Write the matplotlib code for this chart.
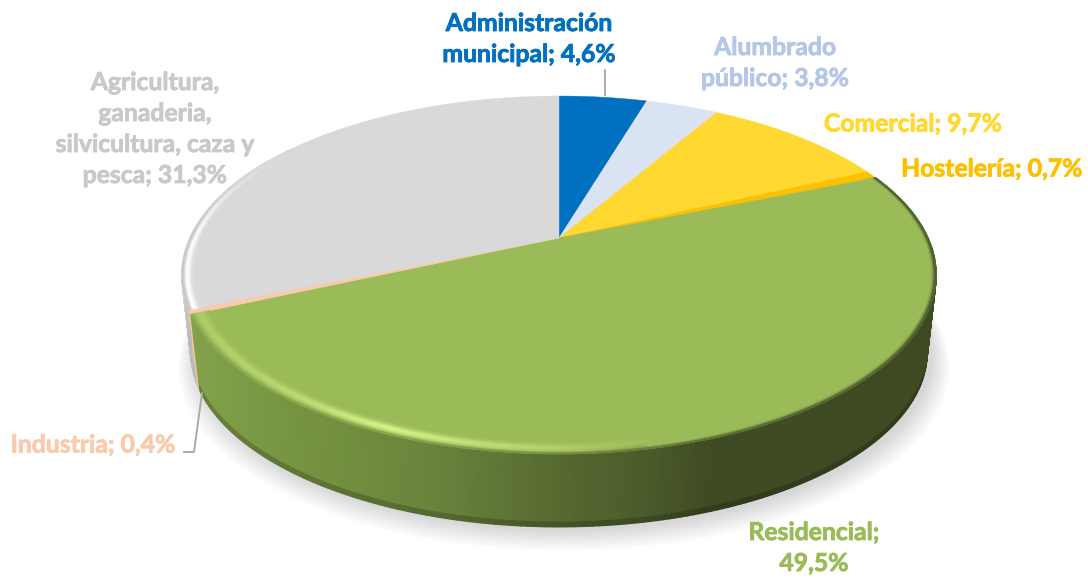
import numpy as np
import matplotlib
matplotlib.use("Agg")
import matplotlib.pyplot as plt
import matplotlib.patheffects as pe
from matplotlib.collections import PolyCollection
from matplotlib.colors import to_rgb

plt.rcParams["font.family"] = ["Lato", "DejaVu Sans"]

# data
names = ["Administración municipal", "Alumbrado público", "Comercial", "Hostelería",
         "Residencial", "Industria", "Agricultura, ganaderia, silvicultura, caza y pesca"]
values = [4.6, 3.8, 9.7, 0.7, 49.5, 0.4, 31.3]
face_colors = ["#0070C0", "#DAE3F3", "#FFD932", "#FFC000", "#9BBB59", "#F8CBAD", "#D9D9D9"]
label_colors = ["#0070C0", "#B4C7E7", "#FFD932", "#FFC000", "#9BBB59", "#F8CBAD", "#C9C9C9"]
label_breaks = [
    ["Administración", "municipal; {}"],
    ["Alumbrado", "público; {}"],
    ["Comercial; {}"],
    ["Hostelería; {}"],
    ["Residencial;", "{}"],
    ["Industria; {}"],
    ["Agricultura,", "ganaderia,", "silvicultura, caza y", "pesca; {}"],
]
label_xy = [(529, 39), (775, 63), (913, 124), (992, 169), (814, 548), (93, 445), (155, 129)]

# pie geometry in pixels
CX, CY = 559, 238
K = 0.2067
R, S = 369, 171.3
DEPTH_SCALE, DEPTH_SHIFT = 0.976, 78


def project(r, t, depth=0.0):
    u = r * np.sin(t)
    v = r * np.cos(t)
    w = 1 + K * v
    s = 1 - (1 - DEPTH_SCALE) * depth
    return CX + s * R * u / w, CY - s * S * v / w + DEPTH_SHIFT * depth


def mix(a, b, w):
    a = np.asarray(to_rgb(a))
    b = np.asarray(to_rgb(b))
    w = np.asarray(w)[..., None]
    return a * (1 - w) + b * w


def draw_wall(ax, t0, t1, color_fn):
    ts = np.linspace(t0, t1, max(int((t1 - t0) * 70), 3))
    depths = np.linspace(0, 1, 17)
    polys, colors = [], []
    for i in range(len(ts) - 1):
        for j in range(len(depths) - 1):
            x0, y0 = project(1, ts[i], depths[j])
            x1, y1 = project(1, ts[i + 1], depths[j])
            x2, y2 = project(1, ts[i + 1], depths[j + 1])
            x3, y3 = project(1, ts[i], depths[j + 1])
            polys.append([(x0, y0), (x1, y1), (x2, y2), (x3, y3)])
            colors.append(color_fn((x0 + x1) / 2, depths[j]))
    ax.add_collection(PolyCollection(polys, facecolors=colors, edgecolors=colors, linewidths=1.0, zorder=3))


def green_wall_color(x, d):
    stops = [190, 300, 430, 567, 650, 710, 940]
    reds = [0x82, 0x76, 0x6A, 0x55, 0x4A, 0x3F, 0x3E]
    greens = [0xA2, 0x93, 0x84, 0x68, 0x5A, 0x4B, 0x4A]
    blues = [0x4A, 0x41, 0x3C, 0x2F, 0x2A, 0x23, 0x22]
    c = np.array([np.interp(x, stops, reds), np.interp(x, stops, greens), np.interp(x, stops, blues)]) / 255
    if d > 0.88:
        c = c * (1 - 3.5 * (d - 0.88))
    return tuple(c)


def gray_wall_color(x, d):
    g = 0.72 + 0.12 * (1 - d)
    return (g, g, g)


def rim_band(ax, t0, t1, face, rim_fn, width=0.045):
    ts = np.linspace(t0, t1, max(int((t1 - t0) * 90), 3))
    radii = np.linspace(1 - width, 0.9995, 13)
    for a, b in zip(radii[:-1], radii[1:]):
        xa, ya = project(a, ts)
        xb, yb = project(b, ts)
        s = (1 - a) / width
        polys = [[(xa[i], ya[i]), (xa[i + 1], ya[i + 1]), (xb[i + 1], yb[i + 1]), (xb[i], yb[i])]
                 for i in range(len(ts) - 1)]
        colors = [rim_fn(xa[i], ts[i], s, face) for i in range(len(ts) - 1)]
        ax.add_collection(PolyCollection(polys, facecolors=colors, edgecolors=colors, linewidths=0.8, zorder=5))


def green_rim(x, t, s, face):
    h = np.interp(x, [190, 300, 390, 520, 640, 720, 940], [0.3, 0.55, 1.0, 0.5, 0.12, 0, 0])
    d = np.interp(x, [560, 700, 800, 940], [0.0, 0.4, 0.6, 0.9])
    band = s if x < 650 else s * 2.0
    hw = h * np.exp(-((band - 0.5) / 0.3) ** 2)
    c = mix(face, "#D8F48A", min(hw, 1))
    dw = d * max(1 - band * 1.6, 0) ** 1.3
    c = mix(tuple(c), "#3E4A22", dw)
    wall = green_wall_color(x, 0)
    return tuple(mix(tuple(c), wall, max(1 - s * 5, 0)))


def gray_rim(x, t, s, face):
    h = np.interp(np.degrees(t), [247, 272, 300], [1.0, 0.9, 0.0])
    w = h * np.exp(-((s - 0.45) / 0.3) ** 2)
    c = mix(face, "#FFFFFF", w)
    return tuple(mix(tuple(c), "#BDBDBD", h * max(1 - s * 3, 0)))


fig = plt.figure(figsize=(10.88, 5.79), dpi=100)
ax = fig.add_axes([0, 0, 1, 1])
ax.set_xlim(0, 1088)
ax.set_ylim(579, 0)
ax.axis("off")

edges = np.radians(np.cumsum([0] + values) / sum(values) * 360)

# soft shadow under the pie
circle = np.linspace(0, 2 * np.pi, 300)
for grow in np.linspace(1.0, 0, 10):
    sx, sy = project(1 + 0.045 * grow, circle, 1)
    ax.fill(sx + 5, sy + 4 + 8 * grow, color="#000000", alpha=0.016, lw=0, zorder=1)

# side walls
draw_wall(ax, edges[6] - 0.01, np.radians(300), gray_wall_color)
draw_wall(ax, edges[5] - 0.02, edges[6], lambda x, d: (0.96, 0.76, 0.60))
draw_wall(ax, edges[4], edges[5], green_wall_color)

# top faces
for i in range(len(values)):
    ts = np.linspace(edges[i], edges[i + 1], 120)
    x, y = project(1, ts)
    ax.fill(np.r_[CX, x], np.r_[CY, y], color=face_colors[i], lw=0.3, zorder=4)

rim_band(ax, edges[4], edges[5], face_colors[4], green_rim)
rim_band(ax, edges[6], np.radians(305), face_colors[6], gray_rim, width=0.03)

# leader lines
ax.plot([605, 605], [70, 95], color="#A6A6A6", lw=1.3, zorder=6)
ax.plot([184, 194, 202], [452, 452, 393], color="#A6A6A6", lw=1.3, zorder=6)

# labels
for i, lines in enumerate(label_breaks):
    pct = f"{values[i]:.1f}%".replace(".", ",")
    text = "\n".join(lines).format(pct)
    ax.text(label_xy[i][0], label_xy[i][1], text, color=label_colors[i], fontsize=17.8, fontweight="bold",
            ha="center", va="center", linespacing=1.42, zorder=7,
            path_effects=[pe.withStroke(linewidth=0.6, foreground=label_colors[i])])

fig.savefig("out.png", dpi=100)
